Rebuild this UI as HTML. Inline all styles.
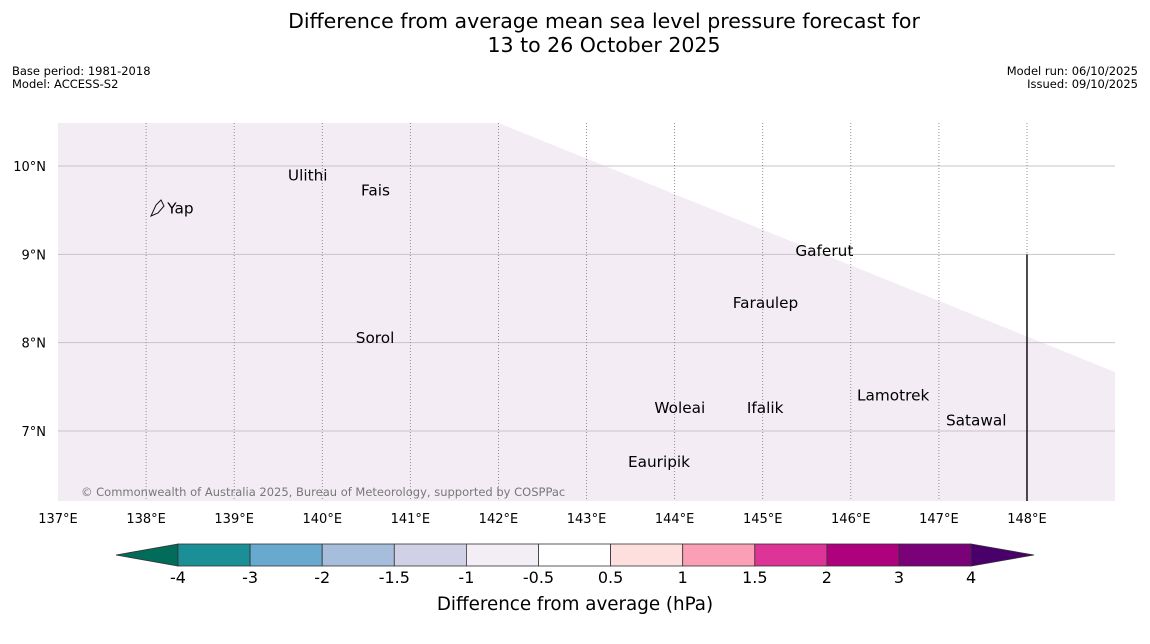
<!DOCTYPE html>
<html><head><meta charset="utf-8"><style>
body{margin:0;background:#fff;font-family:"DejaVu Sans","Liberation Sans",sans-serif}
svg{display:block}
</style></head><body>
<svg id="c" width="1150" height="644" xmlns="http://www.w3.org/2000/svg">
<text x="604" y="28" text-anchor="middle" font-size="20.5">Difference from average mean sea level pressure forecast for</text>
<text x="604" y="52" text-anchor="middle" font-size="20.5">13 to 26 October 2025</text>
<text x="12" y="75" font-size="11.5">Base period: 1981-2018</text>
<text x="12" y="88" font-size="11.5">Model: ACCESS-S2</text>
<text x="1138" y="75" font-size="11.5" text-anchor="end">Model run: 06/10/2025</text>
<text x="1138" y="88" font-size="11.5" text-anchor="end">Issued: 09/10/2025</text>
<g id="map"></g>
<g id="cbar"></g>
<text x="575" y="610" text-anchor="middle" font-size="18.3">Difference from average (hPa)</text>
</svg>
<script>
const lonTicks=[137,138,139,140,141,142,143,144,145,146,147,148];
const latTicks=[7,8,9,10];
const places=["Yap","Ulithi","Fais","Gaferut","Faraulep","Sorol","Woleai","Ifalik","Lamotrek","Satawal","Eauripik"];
const placeLon=[138.15,139.61,140.44,145.37,144.66,140.38,143.77,144.82,146.07,147.08,143.47];
const placeLat=[9.52,9.89,9.72,9.04,8.45,8.05,7.26,7.26,7.40,7.12,6.65];
const levels=[-4,-3,-2,-1.5,-1,-0.5,0.5,1,1.5,2,3,4];
const colors=["#1b8f96","#67a9cf","#a6bddb","#d0d1e6","#f3eef6","#ffffff","#fde0dd","#fa9fb5","#dd3497","#ae017e","#7a0177"];
const extLow="#026c5a", extHigh="#49006a";
const NS="http://www.w3.org/2000/svg";
const X=l=>58+(l-137)*88.09;
const Y=l=>166+(10-l)*88.33;
function mk(p,t,a){const e=document.createElementNS(NS,t);for(const k in a)e.setAttribute(k,a[k]);p.appendChild(e);return e;}
const map=document.getElementById('map');
let r=mk(map,'polygon',{points:`58,123 ${X(142)},123 1115,372 1115,501 58,501`,fill:'#f3ecf5'});


latTicks.forEach(l=>{
 let g=mk(map,'line',{x1:58,x2:1115,y1:Y(l),y2:Y(l),stroke:'#c8c3c8','stroke-width':1});
 
 
 let t=mk(map,'text',{x:46,y:Y(l)+5,'font-size':13,'text-anchor':'end'});t.textContent=l+'°N';
 
 
});
lonTicks.forEach(l=>{
 if(l>137){let g=mk(map,'line',{x1:X(l),x2:X(l),y1:123,y2:501,stroke:'#777','stroke-width':0.8,'stroke-dasharray':'1,2'});
 
 }
 let t=mk(map,'text',{x:X(l),y:523,'font-size':13,'text-anchor':'middle'});t.textContent=l+'°E';
 
 
});
let v=mk(map,'line',{x1:X(148),x2:X(148),y1:Y(9),y2:501,stroke:'#111','stroke-width':1.5});


places.forEach((p,i)=>{
 let t=mk(map,'text',{x:X(placeLon[i])+(i==0?8:0),y:Y(placeLat[i])+5,'font-size':15.3});t.textContent=p;
 
 
});
let yap=mk(map,'path',{d:'M151,216 L156,205 L161,200 L164,206 L158,213 Z',fill:'none',stroke:'#111','stroke-width':1});


let cp=mk(map,'text',{x:81,y:496,'font-size':11.5,fill:'#777'});cp.textContent='© Commonwealth of Australia 2025, Bureau of Meteorology, supported by COSPPac';


const cb=document.getElementById('cbar');
const bx=i=>178+i*72.1, y0=544, y1=566;
let tl=mk(cb,'polygon',{points:`178,${y0} 116,555 178,${y1}`,fill:extLow,stroke:'#333','stroke-width':0.8});


let th=mk(cb,'polygon',{points:`${bx(11)},${y0} 1034,555 ${bx(11)},${y1}`,fill:extHigh,stroke:'#333','stroke-width':0.8});


colors.forEach((c,i)=>{
 let b=mk(cb,'rect',{x:bx(i),y:y0,width:72.1,height:22,fill:c,stroke:'#333','stroke-width':0.8});
 
 
});
levels.forEach((l,i)=>{
 let t=mk(cb,'text',{x:bx(i),y:583,'font-size':16,'text-anchor':'middle'});t.textContent=l;
 
 
});
</script>
</body></html>
